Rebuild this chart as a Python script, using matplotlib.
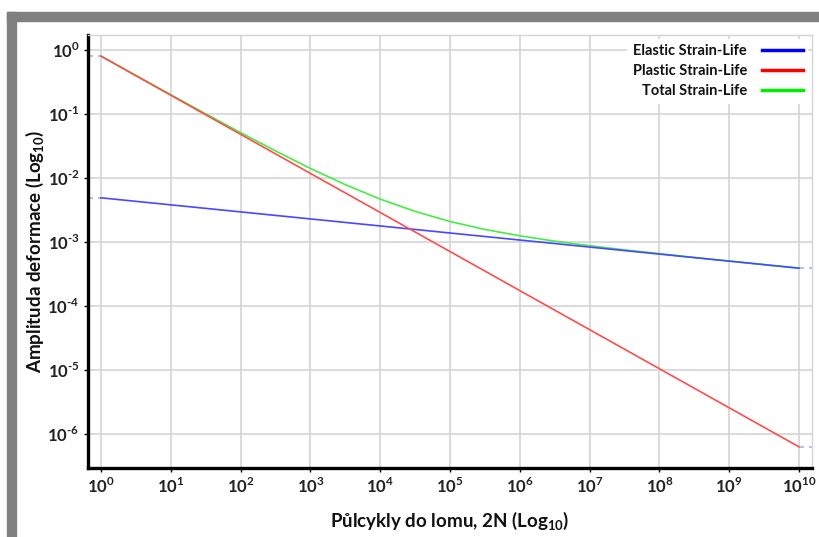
import math
import matplotlib
matplotlib.use("Agg")
import matplotlib.pyplot as plt
from matplotlib.lines import Line2D
from matplotlib.patches import Rectangle
from matplotlib.ticker import FixedLocator, FuncFormatter, NullLocator

plt.rcParams['font.family'] = ['Lato', 'DejaVu Sans']
plt.rcParams['mathtext.fontset'] = 'custom'
plt.rcParams['mathtext.rm'] = 'Lato:bold'
plt.rcParams['mathtext.bf'] = 'Lato:bold'

# cycles (2N) at the line ends, and strain amplitudes
ends_2n = [1e0, 1e10]
elastic_ends = [4.9e-3, 3.9e-4]
plastic_ends = [0.8, 6.3e-7]

# total strain-life curve, read at half decades
total_2n = [1e0, 3.16e0, 1e1, 3.16e1, 1e2, 3.16e2, 1e3, 3.16e3, 1e4, 3.16e4,
            1e5, 3.16e5, 1e6, 3.16e6, 1e7, 3.16e7, 1e8, 3.16e8, 1e9, 3.16e9, 1e10]
total_strain = [0.805, 0.401, 0.200, 0.1006, 0.0512, 0.0265, 0.0141, 0.00788,
                0.00468, 0.00301, 0.00209, 0.00157, 0.00125, 0.00103, 0.000876,
                0.000754, 0.000657, 0.000574, 0.000504, 0.000443, 0.00039]

x_decades = list(range(0, 11))
y_decades = list(range(-6, 1))
legend_labels = ['Elastic Strain-Life', 'Plastic Strain-Life', 'Total Strain-Life']

xlim = (10 ** -0.186, 10 ** 10.186)
ylim = (10 ** -6.531, 10 ** 0.234)

fig = plt.figure(figsize=(8.19, 5.37), dpi=100)

# grey screenshot frame on the top and left
fig.patches.append(Rectangle((7 / 819, 0), 9 / 819, 1 - 12 / 537,
                             transform=fig.transFigure, color='#808080', zorder=0))
fig.patches.append(Rectangle((7 / 819, 1 - 21 / 537), 1 - 7 / 819, 9 / 537,
                             transform=fig.transFigure, color='#808080', zorder=0))

ax = fig.add_axes([88 / 819, 1 - 468 / 537, 724 / 819, 433 / 537])
ax.set_xscale('log')
ax.set_yscale('log')
ax.set_xlim(*xlim)
ax.set_ylim(*ylim)

ax.plot(total_2n, total_strain, color='#44ee44', lw=1.2, zorder=3)
ax.plot(ends_2n, elastic_ends, color='#4848ff', lw=1.2, zorder=4)
ax.plot(ends_2n, plastic_ends, color='#ff4d4d', lw=1.2, zorder=5)

# faint dashed extensions out to the axes edges
for v in (elastic_ends[0], plastic_ends[0]):
    ax.plot([xlim[0], ends_2n[0]], [v, v], color='#aab0ff', lw=1.2,
            ls=(0, (3, 3)), zorder=2, clip_on=False)
for v in (elastic_ends[1], plastic_ends[1]):
    ax.plot([ends_2n[1], xlim[1]], [v, v], color='#aab0ff', lw=1.2,
            ls=(0, (3, 3)), zorder=2, clip_on=False)


def decade_label(v, pos):
    # plain hyphen in the exponent, as in the original
    return r'$10^{\text{%d}}$' % round(math.log10(v))


ax.xaxis.set_major_locator(FixedLocator([10.0 ** d for d in x_decades]))
ax.yaxis.set_major_locator(FixedLocator([10.0 ** d for d in y_decades]))
ax.xaxis.set_minor_locator(NullLocator())
ax.yaxis.set_minor_locator(NullLocator())
ax.xaxis.set_major_formatter(FuncFormatter(decade_label))
ax.yaxis.set_major_formatter(FuncFormatter(decade_label))
ax.tick_params(axis='both', labelsize=12, labelcolor='#222222', length=3,
               width=1, color='black', pad=3)

ax.grid(True, which='major', color='#d4d4d4', lw=1.2, zorder=0)
ax.set_axisbelow(True)
for s in ('left', 'bottom'):
    ax.spines[s].set_linewidth(2.4)
    ax.spines[s].set_color('black')
for s in ('top', 'right'):
    ax.spines[s].set_linewidth(1.0)
    ax.spines[s].set_color('#d4d4d4')

ax.set_xlabel(r'Půlcykly do lomu, 2N (Log$_{10}$)', fontsize=13.5,
              fontweight='bold', color='#111111', labelpad=10)
ax.set_ylabel(r'Amplituda deformace (Log$_{10}$)', fontsize=13.5,
              fontweight='bold', color='#111111', labelpad=1)

handles = [Line2D([], [], color=c, lw=2.5) for c in ('#0000ff', '#ff0000', '#00ee00')]
leg = ax.legend(handles, legend_labels, loc='upper right', markerfirst=False,
                frameon=True, framealpha=1, edgecolor='none', facecolor='white',
                fancybox=False, handlelength=2.8, handletextpad=1.0,
                labelspacing=0.4, borderaxespad=0.25,
                prop={'weight': 'bold', 'size': 10.5})
for t in leg.get_texts():
    t.set_color('#111111')

fig.savefig('out.png', dpi=100)
